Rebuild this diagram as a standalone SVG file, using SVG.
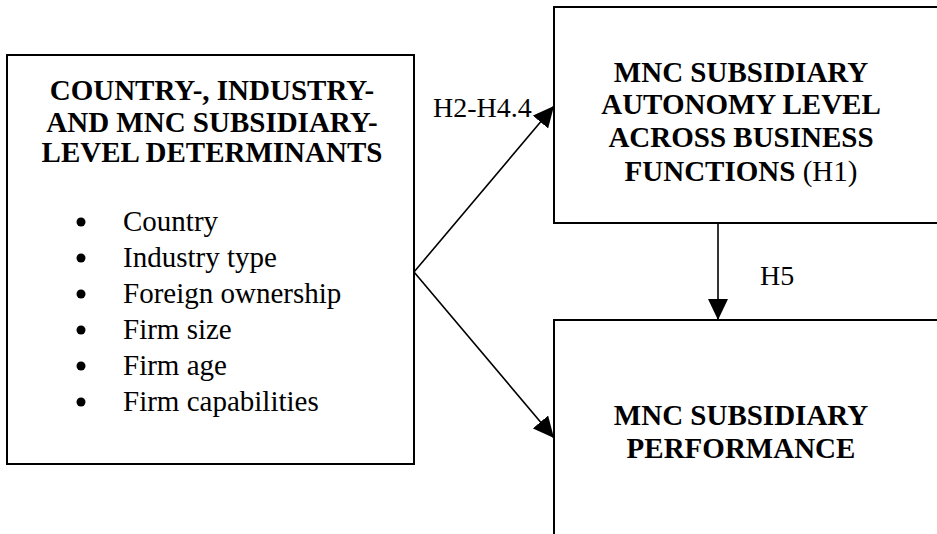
<svg xmlns="http://www.w3.org/2000/svg" width="937" height="534" viewBox="0 0 937 534">
  <style>
    .box { fill: #ffffff; stroke: #000000; stroke-width: 2; }
    text { font-family: 'Liberation Serif', Tinos, 'Times New Roman', Times, 'DejaVu Serif', serif; fill: #000000; }
    .title { font-weight: bold; font-size: 29px; text-anchor: middle; }
    .item { font-size: 29px; }
    .label { font-size: 28px; }
    .edge { fill: none; stroke: #000000; stroke-width: 1.6; }
    .norm { font-weight: normal; }
  </style>
  <defs>
    <marker id="arrow" viewBox="0 0 21 20" refX="21" refY="10" markerWidth="21" markerHeight="20" markerUnits="userSpaceOnUse" orient="auto">
      <path d="M0,0 L21,10 L0,20 Z" fill="#000000"/>
    </marker>
  </defs>

  <rect width="937" height="534" fill="#ffffff"/>

  <!-- determinants box with its bullet list -->
  <g id="determinants">
    <rect class="box" x="7" y="55" width="407" height="409"/>
    <text class="title" x="212" y="100">COUNTRY-, INDUSTRY-</text>
    <text class="title" x="212" y="131.5">AND MNC SUBSIDIARY-</text>
    <text class="title" x="212" y="162">LEVEL DETERMINANTS</text>
    <circle cx="81" cy="222" r="4.5"/>
    <text class="item" x="123" y="231">Country</text>
    <circle cx="81" cy="258" r="4.5"/>
    <text class="item" x="123" y="267">Industry type</text>
    <circle cx="81" cy="294" r="4.5"/>
    <text class="item" x="123" y="303">Foreign ownership</text>
    <circle cx="81" cy="330" r="4.5"/>
    <text class="item" x="123" y="339">Firm size</text>
    <circle cx="81" cy="366" r="4.5"/>
    <text class="item" x="123" y="375">Firm age</text>
    <circle cx="81" cy="402" r="4.5"/>
    <text class="item" x="123" y="411">Firm capabilities</text>
  </g>

  <g id="autonomy">
    <rect class="box" x="554" y="7" width="400" height="216"/>
    <text class="title" x="741" y="82">MNC SUBSIDIARY</text>
    <text class="title" x="741" y="114">AUTONOMY LEVEL</text>
    <text class="title" x="741" y="147">ACROSS BUSINESS</text>
    <text class="title" x="741" y="181">FUNCTIONS <tspan class="norm">(H1)</tspan></text>
  </g>

  <g id="performance">
    <rect class="box" x="554" y="320" width="400" height="230"/>
    <text class="title" x="741" y="425">MNC SUBSIDIARY</text>
    <text class="title" x="741" y="458">PERFORMANCE</text>
  </g>

  <g id="connectors">
    <line class="edge" x1="414" y1="272" x2="554" y2="106" marker-end="url(#arrow)"/>
    <line class="edge" x1="414" y1="272" x2="554" y2="438" marker-end="url(#arrow)"/>
    <line class="edge" x1="718" y1="223" x2="718" y2="320" marker-end="url(#arrow)"/>
    <text class="label" x="433" y="117">H2-H4.4</text>
    <text class="label" x="760" y="285">H5</text>
  </g>
</svg>
